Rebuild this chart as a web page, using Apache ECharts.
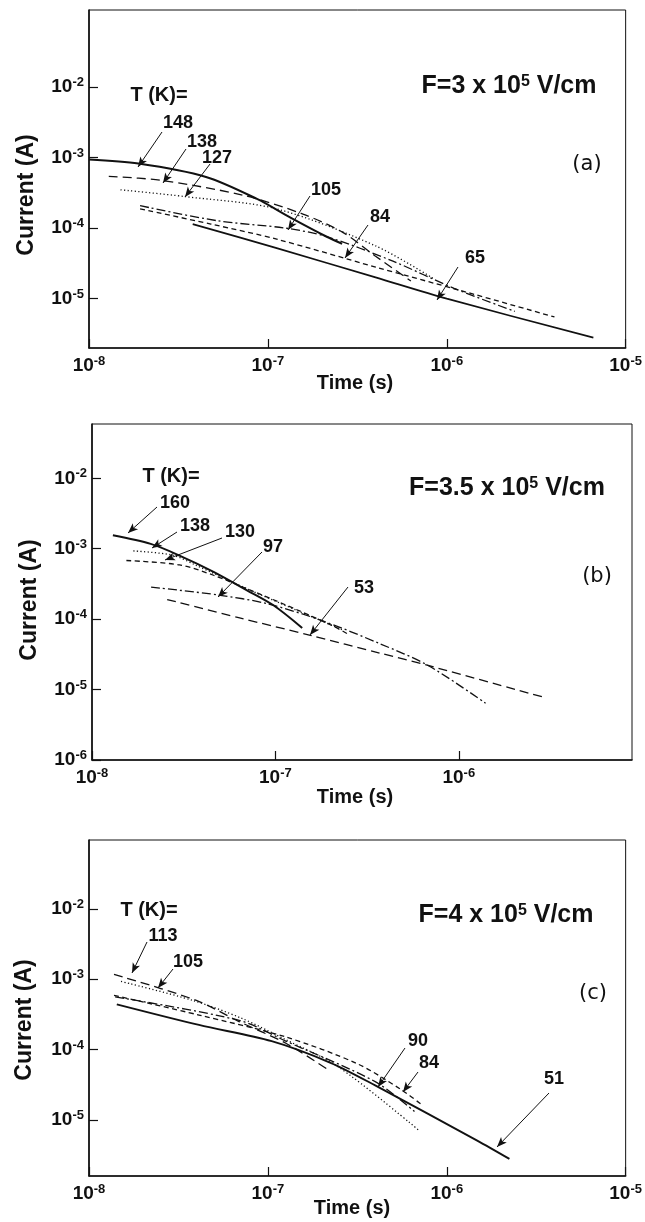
<!DOCTYPE html>
<html>
<head>
<meta charset="utf-8">
<script src="https://cdn.jsdelivr.net/npm/echarts@6/dist/echarts.min.js"></script>
<style>
    html, body { margin: 0; padding: 0; background: #fff; }
    #main { width: 645px; height: 1222px; }
</style>
</head>
<body>
<div id="main"></div>
<script>
// ---- panel (a)  F = 3 x 10^5 V/cm ----
var a148t = [1.0e-8, 1.89e-8, 4.51e-8, 8.69e-8, 1.33e-7, 2.12e-7, 2.6e-7];
var a148i = [9.35e-4, 8.2e-4, 5.3e-4, 2.59e-4, 1.42e-4, 7.6e-5, 6.0e-5];
var a138t = [1.29e-8, 2.54e-8, 7.35e-8, 1.57e-7, 2.62e-7, 4.0e-7, 6.3e-7];
var a138i = [5.4e-4, 4.74e-4, 2.9e-4, 1.58e-4, 8.7e-5, 4.0e-5, 1.78e-5];
var a127t = [1.5e-8, 3.42e-8, 1.12e-7, 4.0e-7, 8.5e-7];
var a127i = [3.49e-4, 2.8e-4, 1.87e-4, 5.6e-5, 1.9e-5];
var a105t = [1.93e-8, 5.22e-8, 1.25e-7, 2.12e-7, 5.0e-7, 1.1e-6, 2.4e-6];
var a105i = [2.08e-4, 1.27e-4, 1.0e-4, 7.6e-5, 3.4e-5, 1.4e-5, 6.6e-6];
var a84t = [1.93e-8, 4.8e-8, 1.12e-7, 4.0e-7, 1.2e-6, 4.0e-6];
var a84i = [1.87e-4, 1.14e-4, 6.97e-5, 2.8e-5, 1.3e-5, 5.5e-6];
var a65t = [3.8e-8, 1.12e-7, 4.0e-7, 1.0e-6, 6.6e-6];
var a65i = [1.14e-4, 5.2e-5, 2.0e-5, 1.0e-5, 2.8e-6];

// ---- panel (b)  F = 3.5 x 10^5 V/cm ----
var b160t = [1.3e-8, 2.09e-8, 3.0e-8, 4.6e-8, 7.0e-8, 9.8e-8, 1.4e-7];
var b160i = [1.55e-3, 1.17e-3, 8.0e-4, 4.7e-4, 2.57e-4, 1.56e-4, 7.5e-5];
var b138t = [1.68e-8, 2.75e-8, 3.7e-8, 7.0e-8, 1.31e-7, 1.76e-7, 2.37e-7];
var b138i = [9.3e-4, 8.1e-4, 5.8e-4, 2.7e-4, 1.33e-4, 9.6e-5, 6.9e-5];
var b130t = [1.54e-8, 3.0e-8, 4.6e-8, 7.0e-8, 1.31e-7, 2.08e-7, 2.47e-7];
var b130i = [6.8e-4, 5.9e-4, 4.2e-4, 2.7e-4, 1.36e-4, 7.9e-5, 6.2e-5];
var b97t = [2.1e-8, 4.9e-8, 9.0e-8, 1.8e-7, 3.7e-7, 6.8e-7, 1.4e-6];
var b97i = [2.85e-4, 2.2e-4, 1.66e-4, 9.5e-5, 4.5e-5, 2.2e-5, 6.4e-6];
var b53t = [2.57e-8, 6.3e-8, 1.55e-7, 3.7e-7, 6.8e-7, 3.0e-6];
var b53i = [1.9e-4, 1.05e-4, 5.9e-5, 3.3e-5, 2.2e-5, 7.6e-6];

// ---- panel (c)  F = 4 x 10^5 V/cm ----
var c113t = [1.38e-8, 3.98e-8, 6.9e-8, 1.26e-7, 2.19e-7];
var c113i = [1.17e-3, 5.0e-4, 2.5e-4, 1.23e-4, 5.1e-5];
var c105t = [1.51e-8, 3.8e-8, 7.1e-8, 1.26e-7, 2.45e-7, 7.0e-7];
var c105i = [9.3e-4, 5.0e-4, 2.8e-4, 1.38e-4, 5.8e-5, 7.1e-6];
var c90t = [1.4e-8, 6.9e-8, 1.26e-7, 3.98e-7, 6.6e-7];
var c90i = [5.6e-4, 2.6e-4, 1.32e-4, 3.5e-5, 1.32e-5];
var c84t = [1.38e-8, 4.12e-8, 1.26e-7, 3.16e-7, 5.5e-7, 7.4e-7];
var c84i = [5.9e-4, 3.1e-4, 1.51e-4, 6.3e-5, 2.75e-5, 1.58e-5];
var c51t = [1.43e-8, 4.12e-8, 1.05e-7, 2.24e-7, 3.98e-7, 1.48e-6, 2.24e-6];
var c51i = [4.4e-4, 2.24e-4, 1.32e-4, 6.5e-5, 3.1e-5, 5.1e-6, 2.8e-6];

// tick values
var xTicksFull = [1e-8, 1e-7, 1e-6, 1e-5];
var xTicksB = [1e-8, 1e-7, 1e-6];
var yTicksAC = [1e-2, 1e-3, 1e-4, 1e-5];
var yTicksB = [1e-2, 1e-3, 1e-4, 1e-5, 1e-6];

var INK = '#111';
var FONT = '"Liberation Sans", Arial, sans-serif';
var dash = {
    solid: 'solid',
    longdash: [9, 5],
    dotted: [1.2, 2.4],
    shortdash: [5, 3.5],
    dashdot: [9, 3, 2, 3]
};

function pairs(t, v) {
    return t.map(function (x, k) { return [x, v[k]]; });
}

function pow10(v) {
    return '10{s|' + Math.round(Math.log10(v)) + '}';
}

var supRich = {
    s: { fontSize: 13, fontWeight: 'bold', fontFamily: FONT, color: INK, verticalAlign: 'top', lineHeight: 11 }
};

function xAxis(idx, min, max, ticks) {
    return {
        type: 'log', gridIndex: idx, min: min, max: max,
        axisLine: { show: true, onZero: false, lineStyle: { color: INK, width: 1.6 } },
        axisTick: { show: true, inside: true, length: 9, customValues: ticks, lineStyle: { color: INK, width: 1.2 } },
        axisLabel: {
            customValues: ticks, formatter: pow10, margin: 7, color: INK,
            fontFamily: FONT, fontSize: 19, fontWeight: 'bold', lineHeight: 22, rich: supRich,
            showMinLabel: true, showMaxLabel: true
        },
        splitLine: { show: false }
    };
}

function yAxis(idx, min, max, ticks) {
    return {
        type: 'log', gridIndex: idx, min: min, max: max,
        axisLine: { show: true, onZero: false, lineStyle: { color: INK, width: 1.6 } },
        axisTick: { show: true, inside: true, length: 9, customValues: ticks, lineStyle: { color: INK, width: 1.2 } },
        axisLabel: {
            customValues: ticks, formatter: pow10, margin: 5, color: INK,
            fontFamily: FONT, fontSize: 19, fontWeight: 'bold', lineHeight: 22, rich: supRich,
            showMinLabel: true, showMaxLabel: true
        },
        splitLine: { show: false }
    };
}

function curve(idx, t, v, type, width) {
    return {
        type: 'line', xAxisIndex: idx, yAxisIndex: idx,
        data: pairs(t, v), showSymbol: false, symbol: 'none', smooth: 0.3,
        lineStyle: { color: INK, width: width || 1.3, type: dash[type] }
    };
}

// label arrows, pixel positions [x1, y1, x2, y2]
var arrowsA = [[162, 132, 138, 167], [186, 149, 163, 183], [210, 164, 185, 197],
               [310, 196, 288, 230], [368, 225, 345, 258], [458, 267, 437, 300]];
var arrowsB = [[157, 507, 128, 533], [177, 532, 152, 548], [222, 538, 165, 560],
               [262, 552, 218, 597], [348, 587, 310, 635]];
var arrowsC = [[147, 942, 132, 973], [173, 969, 158, 988], [405, 1048, 378, 1087],
               [418, 1072, 403, 1092], [549, 1093, 497, 1147]];

function arrowLines(list) {
    return {
        silent: true, symbol: ['none', 'arrow'], symbolSize: [6, 10],
        lineStyle: { color: INK, width: 1, type: 'solid' },
        label: { show: false }, emphasis: { disabled: true },
        data: list.map(function (a) { return [{ x: a[0], y: a[1] }, { x: a[2], y: a[3] }]; })
    };
}

var texts = [
    // panel a
    ['T (K)=', 159, 95, 20, true], ['148', 178, 123, 18, true], ['138', 202, 142, 18, true],
    ['127', 217, 158, 18, true], ['105', 326, 190, 18, true], ['84', 380, 217, 18, true],
    ['65', 475, 258, 18, true],
    ['F=3 x 10{s|5} V/cm', 509, 86, 25, true], ['(a)', 587, 165, 21, false],
    ['Time (s)', 355, 383, 20, true],
    // panel b
    ['T (K)=', 171, 476, 20, true], ['160', 175, 503, 18, true], ['138', 195, 526, 18, true],
    ['130', 240, 532, 18, true], ['97', 273, 547, 18, true], ['53', 364, 588, 18, true],
    ['F=3.5 x 10{s|5} V/cm', 507, 488, 25, true], ['(b)', 597, 577, 21, false],
    ['Time (s)', 355, 797, 20, true],
    // panel c
    ['T (K)=', 149, 910, 20, true], ['113', 163, 936, 18, true], ['105', 188, 962, 18, true],
    ['90', 418, 1041, 18, true], ['84', 429, 1063, 18, true], ['51', 554, 1079, 18, true],
    ['F=4 x 10{s|5} V/cm', 506, 915, 25, true], ['(c)', 593, 994, 21, false],
    ['Time (s)', 352, 1208, 20, true]
];
var yNames = [[27, 195], [30, 600], [25, 1020]];

var graphic = texts.map(function (d) {
    return {
        type: 'text', x: d[1], y: d[2], silent: true,
        style: {
            text: d[0], x: 0, y: 0, align: 'center', verticalAlign: 'middle',
            fill: INK, fontFamily: d[4] ? FONT : '"DejaVu Sans", sans-serif',
            fontSize: d[3], fontWeight: d[4] ? 'bold' : 'normal',
            rich: { s: { fontSize: 16, fontWeight: 'bold', fontFamily: FONT, fill: INK, verticalAlign: 'top', lineHeight: 13 } }
        }
    };
});
yNames.forEach(function (p) {
    graphic.push({
        type: 'text', x: p[0], y: p[1], rotation: Math.PI / 2, silent: true,
        style: { text: 'Current (A)', align: 'center', verticalAlign: 'middle', fill: INK,
                 fontFamily: FONT, fontSize: 23, fontWeight: 'bold' }
    });
});

var gridStyle = { show: true, borderColor: INK, borderWidth: 1, backgroundColor: 'transparent' };

var seriesA = [
    curve(0, a148t, a148i, 'solid', 2), curve(0, a138t, a138i, 'longdash'),
    curve(0, a127t, a127i, 'dotted'), curve(0, a105t, a105i, 'dashdot'),
    curve(0, a84t, a84i, 'shortdash'), curve(0, a65t, a65i, 'solid', 1.7)
];
seriesA[0].markLine = arrowLines(arrowsA);
var seriesB = [
    curve(1, b160t, b160i, 'solid', 2), curve(1, b138t, b138i, 'dotted'),
    curve(1, b130t, b130i, 'shortdash'), curve(1, b97t, b97i, 'dashdot'),
    curve(1, b53t, b53i, 'longdash')
];
seriesB[0].markLine = arrowLines(arrowsB);
var seriesC = [
    curve(2, c113t, c113i, 'longdash'), curve(2, c105t, c105i, 'dotted'),
    curve(2, c90t, c90i, 'dashdot'), curve(2, c84t, c84i, 'shortdash'),
    curve(2, c51t, c51i, 'solid', 1.9)
];
seriesC[0].markLine = arrowLines(arrowsC);

var myChart = echarts.init(document.getElementById('main'));
var option = {
    backgroundColor: '#fff',
    animation: false,
    grid: [
        Object.assign({ left: 89, top: 10, width: 543, height: 338 }, gridStyle),
        Object.assign({ left: 92, top: 424, width: 540, height: 336 }, gridStyle),
        Object.assign({ left: 89, top: 840, width: 540, height: 336 }, gridStyle)
    ],
    xAxis: [
        xAxis(0, 1e-8, 1e-5, xTicksFull),
        xAxis(1, 1e-8, 8.8e-6, xTicksB),
        xAxis(2, 1e-8, 1e-5, xTicksFull)
    ],
    yAxis: [
        yAxis(0, 2.0e-6, 0.123, yTicksAC),
        yAxis(1, 1e-6, 0.059, yTicksB),
        yAxis(2, 1.6e-6, 0.095, yTicksAC)
    ],
    graphic: graphic,
    series: seriesA.concat(seriesB, seriesC)
};
myChart.setOption(option);
</script>
</body>
</html>
